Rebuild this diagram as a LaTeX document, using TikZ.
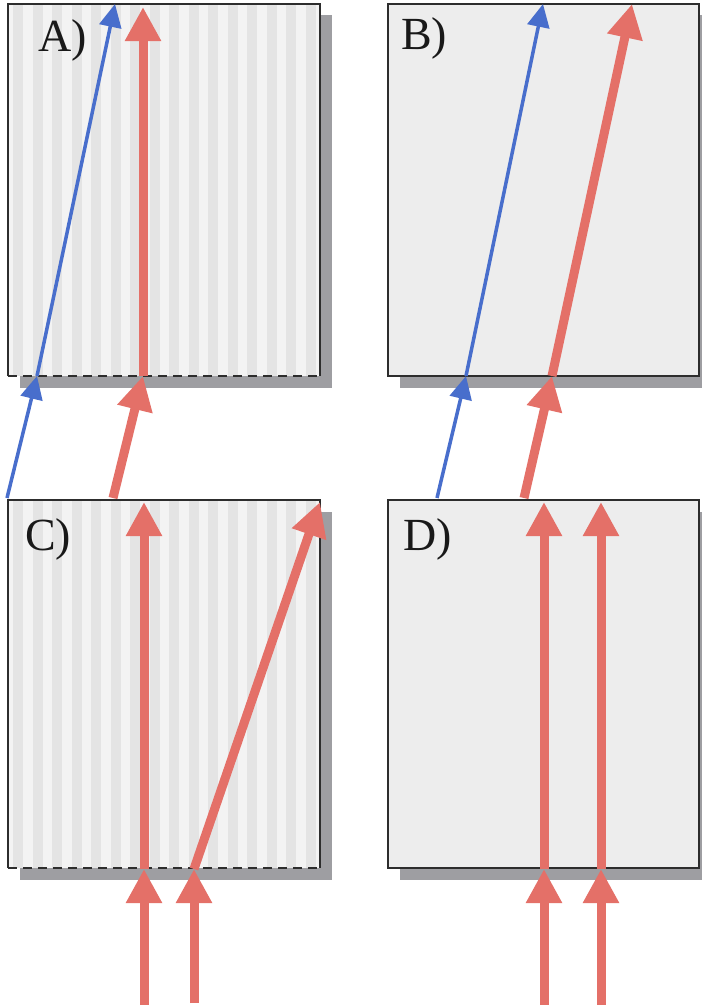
\documentclass[tikz,border=0pt]{standalone}
\usepackage{fontspec}
\setmainfont{Liberation Serif}
\usetikzlibrary{arrows.meta}
\definecolor{rayred}{RGB}{228,112,104}
\definecolor{rayblue}{RGB}{72,110,204}
\definecolor{panelfill}{RGB}{237,237,237}
\definecolor{stripelight}{RGB}{243,243,243}
\definecolor{stripecol}{RGB}{228,228,228}
\definecolor{shade}{RGB}{158,158,162}
\definecolor{edgecol}{RGB}{45,45,45}
\tikzset{
 redray/.style={draw=rayred, line width=9pt, -{Triangle[width=34pt,length=34pt]}},
 blueray/.style={draw=rayblue, line width=3.5pt, -{Triangle[width=22pt,length=23pt]}},
 shadowbox/.style={fill=shade},
 panelbox/.style={fill=panelfill},
 rim/.style={draw=edgecol, line width=1.8pt},
 dashrim/.style={draw=edgecol, line width=1.8pt, dash pattern=on 9pt off 6pt},
 lbl/.style={font=\fontsize{46}{46}\selectfont, text=black!90, inner sep=0pt}
}
\begin{document}
\begin{tikzpicture}[x=1pt,y=-1pt]
\useasboundingbox (0,0) rectangle (702,1005);
\fill[white] (0,0) rectangle (702,1005);

% ---------- Panel A (striped, dashed bottom) ----------
\fill[shadowbox] (20,15) rectangle (332,388);
\fill[stripelight] (8,4) rectangle (320,376);
\begin{scope}
\clip (8,4) rectangle (320,376);
\foreach \i in {0,...,15} \fill[stripecol] ({13+\i*19.5},4) rectangle ({23+\i*19.5},376);
\end{scope}
\draw[rim] (8,376) -- (8,4) -- (320,4) -- (320,376);
\draw[dashrim] (8,376) -- (320,376);
\node[lbl] (labA) at (63,40) {A)};

% ---------- Panel B ----------
\fill[shadowbox] (400,15) rectangle (712,388);
\fill[panelbox] (388,4) rectangle (699,376);
\draw[rim] (388,4) rectangle (699,376);
\node[lbl] (labB) at (424,38) {B)};

% ---------- Panel C (striped, dashed bottom) ----------
\fill[shadowbox] (20,512) rectangle (332,880);
\fill[stripelight] (8,500) rectangle (320,868);
\begin{scope}
\clip (8,500) rectangle (320,868);
\foreach \i in {0,...,15} \fill[stripecol] ({13+\i*19.5},500) rectangle ({23+\i*19.5},868);
\end{scope}
\draw[rim] (8,868) -- (8,500) -- (320,500) -- (320,868);
\draw[dashrim] (8,868) -- (320,868);
\node[lbl] (labC) at (48,539) {C)};

% ---------- Panel D ----------
\fill[shadowbox] (400,512) rectangle (712,880);
\fill[panelbox] (388,500) rectangle (699,868);
\draw[rim] (388,500) rectangle (699,868);
\node[lbl] (labD) at (428,539) {D)};

% ---------- Rays, panel A ----------
\coordinate (ab0) at (7,498);
\coordinate (ab1) at (37,376);
\coordinate (ab2) at (115,4);
\coordinate (ar0) at (113,498);
\coordinate (ar1) at (143,376);
\coordinate (ar2) at (143,7);
\draw[blueray] (ab0) -- (ab1);
\draw[blueray] (ab1) -- (ab2);
\draw[redray] (ar0) -- (ar1);
\draw[redray] (ar1) -- (ar2);

% ---------- Rays, panel B ----------
\coordinate (bb0) at (437,498);
\coordinate (bb1) at (466,376);
\coordinate (bb2) at (543,4);
\coordinate (br0) at (524,498);
\coordinate (br1) at (552,376);
\coordinate (br2) at (632,4);
\draw[blueray] (bb0) -- (bb1);
\draw[blueray] (bb1) -- (bb2);
\draw[redray] (br0) -- (br1);
\draw[redray] (br1) -- (br2);

% ---------- Rays, panel C ----------
\coordinate (cr0) at (144,1005);
\coordinate (cr1) at (144,869);
\coordinate (cr2) at (144,502);
\coordinate (cs0) at (194,1003);
\coordinate (cs1) at (194,869);
\coordinate (cs2) at (320,502);
\draw[redray] (cr0) -- (cr1);
\draw[redray] (cr1) -- (cr2);
\draw[redray] (cs0) -- (cs1);
\draw[redray] (cs1) -- (cs2);

% ---------- Rays, panel D ----------
\coordinate (dr0) at (544,1005);
\coordinate (dr1) at (544,869);
\coordinate (dr2) at (544,502);
\coordinate (ds0) at (601,1005);
\coordinate (ds1) at (601,869);
\coordinate (ds2) at (601,502);
\draw[redray] (dr0) -- (dr1);
\draw[redray] (dr1) -- (dr2);
\draw[redray] (ds0) -- (ds1);
\draw[redray] (ds1) -- (ds2);
\end{tikzpicture}
\end{document}
